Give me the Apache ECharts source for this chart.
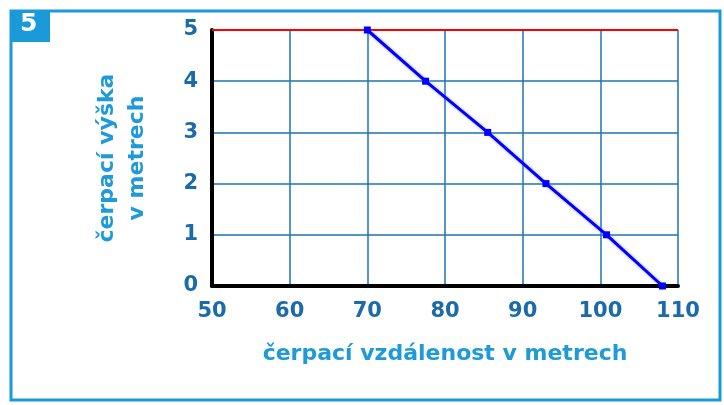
<!DOCTYPE html>
<html lang="cs">
<head>
<meta charset="UTF-8">
<title>čerpací výška</title>
<style>
  html, body { margin: 0; padding: 0; background: #fff; }
  #chart { width: 724px; height: 405px; }
</style>
</head>
<body>
<div id="chart"></div>
<script src="https://cdn.jsdelivr.net/npm/echarts@6/dist/echarts.min.js"></script>
<script>
// vzdálenost (m) a výška (m)
var distance = [70, 77.5, 85.5, 93, 100.8, 108];
var height = [5, 4, 3, 2, 1, 0];
var xTicks = [50, 60, 70, 80, 90, 100, 110];
var yTicks = [0, 1, 2, 3, 4, 5];

var labelBlue = '#1b6bab';
var titleBlue = '#1e9ad8';
var font = '"DejaVu Sans", Verdana, sans-serif';

var chart = echarts.init(document.getElementById('chart'));

var points = [];
for (var i = 0; i < distance.length; i++) {
    points.push([distance[i], height[i]]);
}

var option = {
    backgroundColor: '#fff',
    animation: false,
    grid: { left: 212, right: 46, top: 30, bottom: 119 },
    graphic: [
        {
            type: 'rect',
            shape: { x: 11, y: 11, width: 709, height: 389 },
            style: { fill: 'none', stroke: '#1a9ad8', lineWidth: 3 }
        },
        {
            type: 'rect',
            shape: { x: 10, y: 10, width: 40, height: 32 },
            style: { fill: '#1a9ad8' }
        },
        {
            type: 'text',
            left: 20, top: 12,
            style: { text: '5', fill: '#fff', font: 'bold 25px ' + font }
        }
    ],
    xAxis: {
        type: 'value',
        min: xTicks[0],
        max: xTicks[xTicks.length - 1],
        interval: 10,
        name: 'čerpací vzdálenost v metrech',
        nameLocation: 'middle',
        nameGap: 57,
        nameTextStyle: { color: titleBlue, fontSize: 22, fontWeight: 'bold', fontFamily: font },
        axisLine: { lineStyle: { color: '#000', width: 4 } },
        axisTick: { show: false },
        axisLabel: { color: labelBlue, fontSize: 21, fontWeight: 'bold', fontFamily: font, margin: 15 },
        splitLine: { lineStyle: { color: '#1b75b5', width: 1.5 } }
    },
    yAxis: {
        type: 'value',
        min: yTicks[0],
        max: yTicks[yTicks.length - 1],
        interval: 1,
        name: 'čerpací výška\nv metrech',
        nameLocation: 'middle',
        nameRotate: 90,
        nameGap: 60,
        nameTextStyle: { color: titleBlue, fontSize: 22, fontWeight: 'bold', fontFamily: font, lineHeight: 30 },
        axisLine: { show: true, lineStyle: { color: '#000', width: 4 } },
        axisTick: { show: false },
        axisLabel: { color: labelBlue, fontSize: 21, fontWeight: 'bold', fontFamily: font, margin: 14 },
        splitLine: { lineStyle: { color: '#1b75b5', width: 1.5 } }
    },
    series: [
        {
            type: 'line',
            data: points,
            symbol: 'rect',
            symbolSize: 7,
            itemStyle: { color: '#0000ff' },
            lineStyle: { color: '#0000ff', width: 3, shadowColor: 'rgba(110,110,255,0.7)', shadowBlur: 3 },
            markLine: {
                silent: true,
                symbol: 'none',
                label: { show: false },
                lineStyle: { color: '#ff0000', width: 2, type: 'solid' },
                data: [{ yAxis: 5 }]
            },
            z: 5
        }
    ]
};

chart.setOption(option);
</script>
</body>
</html>
